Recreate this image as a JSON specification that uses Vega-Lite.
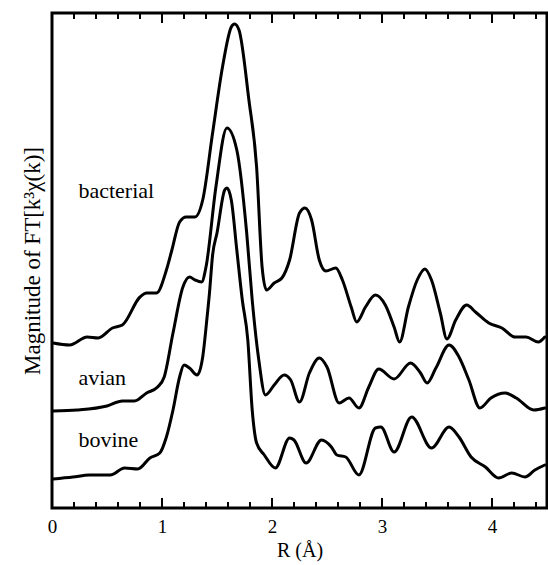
{
  "$schema": "https://vega.github.io/schema/vega-lite/v6.json",
  "width": 495,
  "height": 495,
  "autosize": {"type": "none"},
  "padding": {"left": 52, "top": 13, "right": 1, "bottom": 57},
  "background": "white",
  "config": {
    "view": {"stroke": "black", "strokeWidth": 3},
    "scale": {"continuousPadding": 0}
  },
  "datasets": {
    "curves": [
      {"s":"bacterial","r":0.01,"m":165},{"s":"bacterial","r":0.16,"m":163},{"s":"bacterial","r":0.32,"m":171},{"s":"bacterial","r":0.42,"m":170},{"s":"bacterial","r":0.55,"m":180},{"s":"bacterial","r":0.64,"m":183},{"s":"bacterial","r":0.80,"m":211},{"s":"bacterial","r":0.86,"m":215},{"s":"bacterial","r":0.95,"m":215},{"s":"bacterial","r":1.04,"m":238},{"s":"bacterial","r":1.09,"m":258},{"s":"bacterial","r":1.16,"m":286},{"s":"bacterial","r":1.22,"m":291},{"s":"bacterial","r":1.30,"m":291},{"s":"bacterial","r":1.37,"m":308},{"s":"bacterial","r":1.46,"m":375},{"s":"bacterial","r":1.55,"m":441},{"s":"bacterial","r":1.63,"m":481},{"s":"bacterial","r":1.66,"m":484},{"s":"bacterial","r":1.70,"m":478},{"s":"bacterial","r":1.79,"m":408},{"s":"bacterial","r":1.86,"m":341},{"s":"bacterial","r":1.91,"m":241},{"s":"bacterial","r":1.95,"m":218},{"s":"bacterial","r":2.02,"m":225},{"s":"bacterial","r":2.09,"m":230},{"s":"bacterial","r":2.16,"m":248},{"s":"bacterial","r":2.25,"m":295},{"s":"bacterial","r":2.30,"m":300},{"s":"bacterial","r":2.36,"m":288},{"s":"bacterial","r":2.43,"m":248},{"s":"bacterial","r":2.49,"m":237},{"s":"bacterial","r":2.58,"m":240},{"s":"bacterial","r":2.64,"m":228},{"s":"bacterial","r":2.72,"m":201},{"s":"bacterial","r":2.77,"m":186},{"s":"bacterial","r":2.85,"m":201},{"s":"bacterial","r":2.94,"m":213},{"s":"bacterial","r":3.03,"m":203},{"s":"bacterial","r":3.11,"m":181},{"s":"bacterial","r":3.16,"m":166},{"s":"bacterial","r":3.24,"m":201},{"s":"bacterial","r":3.32,"m":228},{"s":"bacterial","r":3.39,"m":239},{"s":"bacterial","r":3.45,"m":228},{"s":"bacterial","r":3.53,"m":195},{"s":"bacterial","r":3.59,"m":169},{"s":"bacterial","r":3.67,"m":188},{"s":"bacterial","r":3.77,"m":203},{"s":"bacterial","r":3.85,"m":196},{"s":"bacterial","r":3.97,"m":185},{"s":"bacterial","r":4.09,"m":180},{"s":"bacterial","r":4.21,"m":171},{"s":"bacterial","r":4.31,"m":171},{"s":"bacterial","r":4.42,"m":166},{"s":"bacterial","r":4.48,"m":171},
      {"s":"avian","r":0.01,"m":97},{"s":"avian","r":0.23,"m":98},{"s":"avian","r":0.50,"m":102},{"s":"avian","r":0.64,"m":107},{"s":"avian","r":0.75,"m":107},{"s":"avian","r":0.86,"m":115},{"s":"avian","r":0.96,"m":121},{"s":"avian","r":1.02,"m":131},{"s":"avian","r":1.10,"m":175},{"s":"avian","r":1.19,"m":221},{"s":"avian","r":1.25,"m":231},{"s":"avian","r":1.30,"m":228},{"s":"avian","r":1.36,"m":226},{"s":"avian","r":1.40,"m":241},{"s":"avian","r":1.49,"m":321},{"s":"avian","r":1.59,"m":380},{"s":"avian","r":1.68,"m":358},{"s":"avian","r":1.77,"m":275},{"s":"avian","r":1.82,"m":208},{"s":"avian","r":1.88,"m":148},{"s":"avian","r":1.94,"m":113},{"s":"avian","r":2.02,"m":123},{"s":"avian","r":2.11,"m":133},{"s":"avian","r":2.17,"m":128},{"s":"avian","r":2.25,"m":106},{"s":"avian","r":2.34,"m":135},{"s":"avian","r":2.43,"m":150},{"s":"avian","r":2.50,"m":141},{"s":"avian","r":2.61,"m":105},{"s":"avian","r":2.70,"m":110},{"s":"avian","r":2.79,"m":100},{"s":"avian","r":2.88,"m":121},{"s":"avian","r":2.97,"m":139},{"s":"avian","r":3.11,"m":129},{"s":"avian","r":3.26,"m":145},{"s":"avian","r":3.35,"m":135},{"s":"avian","r":3.41,"m":125},{"s":"avian","r":3.49,"m":140},{"s":"avian","r":3.61,"m":163},{"s":"avian","r":3.70,"m":151},{"s":"avian","r":3.79,"m":128},{"s":"avian","r":3.89,"m":100},{"s":"avian","r":3.99,"m":110},{"s":"avian","r":4.12,"m":115},{"s":"avian","r":4.22,"m":110},{"s":"avian","r":4.38,"m":98},{"s":"avian","r":4.48,"m":100},
      {"s":"bovine","r":0.01,"m":29},{"s":"bovine","r":0.19,"m":31},{"s":"bovine","r":0.34,"m":33},{"s":"bovine","r":0.53,"m":33},{"s":"bovine","r":0.66,"m":40},{"s":"bovine","r":0.78,"m":39},{"s":"bovine","r":0.89,"m":50},{"s":"bovine","r":0.98,"m":55},{"s":"bovine","r":1.04,"m":71},{"s":"bovine","r":1.10,"m":98},{"s":"bovine","r":1.16,"m":131},{"s":"bovine","r":1.20,"m":143},{"s":"bovine","r":1.25,"m":140},{"s":"bovine","r":1.32,"m":133},{"s":"bovine","r":1.37,"m":151},{"s":"bovine","r":1.41,"m":191},{"s":"bovine","r":1.43,"m":213},{"s":"bovine","r":1.46,"m":253},{"s":"bovine","r":1.50,"m":275},{"s":"bovine","r":1.57,"m":318},{"s":"bovine","r":1.59,"m":320},{"s":"bovine","r":1.63,"m":308},{"s":"bovine","r":1.68,"m":258},{"s":"bovine","r":1.73,"m":208},{"s":"bovine","r":1.78,"m":168},{"s":"bovine","r":1.82,"m":98},{"s":"bovine","r":1.86,"m":65},{"s":"bovine","r":1.93,"m":53},{"s":"bovine","r":2.03,"m":40},{"s":"bovine","r":2.16,"m":70},{"s":"bovine","r":2.20,"m":68},{"s":"bovine","r":2.31,"m":45},{"s":"bovine","r":2.45,"m":68},{"s":"bovine","r":2.54,"m":61},{"s":"bovine","r":2.59,"m":53},{"s":"bovine","r":2.67,"m":51},{"s":"bovine","r":2.79,"m":33},{"s":"bovine","r":2.94,"m":80},{"s":"bovine","r":2.99,"m":81},{"s":"bovine","r":3.11,"m":56},{"s":"bovine","r":3.27,"m":91},{"s":"bovine","r":3.45,"m":60},{"s":"bovine","r":3.61,"m":81},{"s":"bovine","r":3.70,"m":71},{"s":"bovine","r":3.81,"m":51},{"s":"bovine","r":3.94,"m":41},{"s":"bovine","r":4.06,"m":30},{"s":"bovine","r":4.18,"m":35},{"s":"bovine","r":4.30,"m":31},{"s":"bovine","r":4.39,"m":38},{"s":"bovine","r":4.48,"m":43}
    ],
    "labels": [
      {"name":"bacterial","r":0.24,"m":310},
      {"name":"avian","r":0.24,"m":123},
      {"name":"bovine","r":0.24,"m":61}
    ],
    "majorpos": [{"r":0},{"r":1},{"r":2},{"r":3},{"r":4}],
    "minorpos": [{"r":0.2},{"r":0.4},{"r":0.6},{"r":0.8},{"r":1.2},{"r":1.4},{"r":1.6},{"r":1.8},{"r":2.2},{"r":2.4},{"r":2.6},{"r":2.8},{"r":3.2},{"r":3.4},{"r":3.6},{"r":3.8},{"r":4.2},{"r":4.4}]
  },
  "layer": [
    {
      "data": {"name": "majorpos"},
      "mark": {"type": "bar", "color": "black", "width": 2},
      "encoding": {
        "x": {"field": "r", "type": "quantitative"},
        "y": {"datum": 0, "type": "quantitative"},
        "y2": {"datum": 10}
      }
    },
    {
      "data": {"name": "minorpos"},
      "mark": {"type": "bar", "color": "black", "width": 2},
      "encoding": {
        "x": {"field": "r", "type": "quantitative"},
        "y": {"datum": 0, "type": "quantitative"},
        "y2": {"datum": 6}
      }
    },
    {
      "data": {"name": "majorpos"},
      "mark": {"type": "bar", "color": "black", "width": 2},
      "encoding": {
        "x": {"field": "r", "type": "quantitative"},
        "y": {"datum": 495, "type": "quantitative"},
        "y2": {"datum": 485}
      }
    },
    {
      "data": {"name": "minorpos"},
      "mark": {"type": "bar", "color": "black", "width": 2},
      "encoding": {
        "x": {"field": "r", "type": "quantitative"},
        "y": {"datum": 495, "type": "quantitative"},
        "y2": {"datum": 489}
      }
    },
    {
      "data": {"name": "curves"},
      "mark": {"type": "line", "interpolate": "monotone", "color": "black", "strokeWidth": 3, "strokeJoin": "round", "strokeCap": "round"},
      "encoding": {
        "x": {
          "field": "r", "type": "quantitative",
          "scale": {"domain": [0, 4.5], "nice": false, "zero": false, "padding": 0},
          "axis": {
            "orient": "bottom",
            "title": "R (Å)",
            "titleFont": "Liberation Serif", "titleFontSize": 20, "titleFontWeight": "normal", "titleColor": "black",
            "titlePadding": 4,
            "values": [0, 1, 2, 3, 4],
            "format": "d",
            "labelFont": "Liberation Serif", "labelFontSize": 19, "labelColor": "black",
            "labelPadding": 9,
            "labelFlush": false,
            "ticks": false,
            "domain": false,
            "grid": false
          }
        },
        "y": {
          "field": "m", "type": "quantitative",
          "scale": {"domain": [0, 495], "nice": false, "zero": false, "padding": 0},
          "axis": {
            "title": "Magnitude of FT[k³χ(k)]",
            "titleFont": "Liberation Serif", "titleFontSize": 23, "titleFontWeight": "normal", "titleColor": "black",
            "titlePadding": 8,
            "labels": false, "ticks": false, "domain": false, "grid": false
          }
        },
        "detail": {"field": "s", "type": "nominal"}
      }
    },
    {
      "data": {"name": "labels"},
      "mark": {"type": "text", "align": "left", "baseline": "alphabetic", "font": "Liberation Serif", "fontSize": 22, "color": "black"},
      "encoding": {
        "x": {"field": "r", "type": "quantitative"},
        "y": {"field": "m", "type": "quantitative"},
        "text": {"field": "name"}
      }
    }
  ]
}
